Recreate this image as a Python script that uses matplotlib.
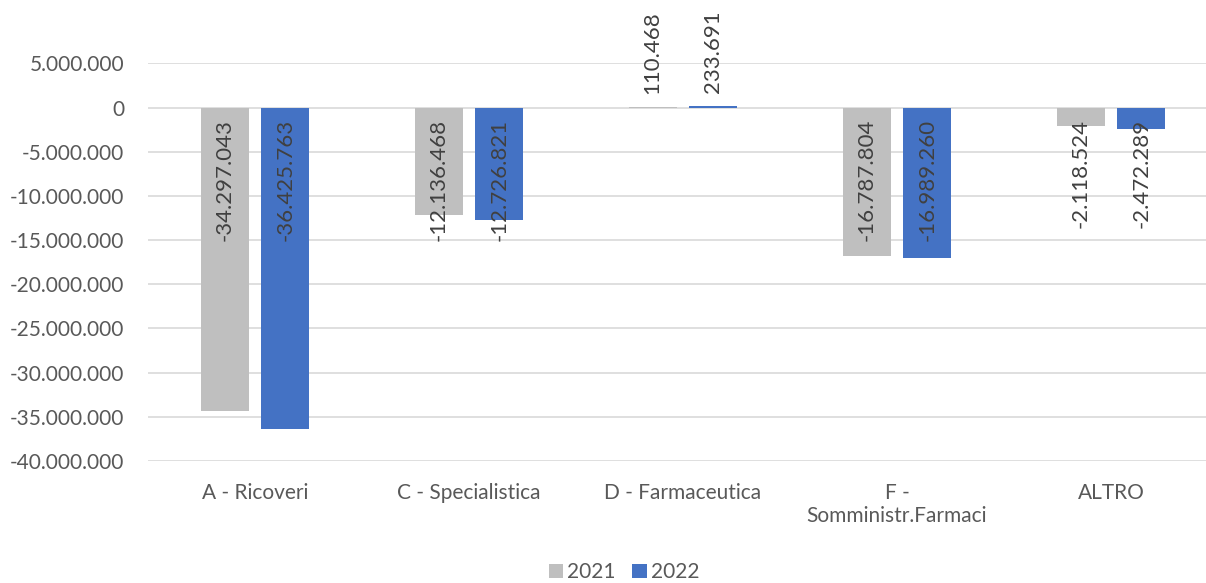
import numpy as np
import matplotlib.pyplot as plt

categories = ["A - Ricoveri", "C - Specialistica", "D - Farmaceutica",
              "F -\nSomministr.Farmaci", "ALTRO"]
values_2021 = [-34297043, -12136468, 110468, -16787804, -2118524]
values_2022 = [-36425763, -12726821, 233691, -16989260, -2472289]
series = {"2021": values_2021, "2022": values_2022}
colors = {"2021": "#BFBFBF", "2022": "#4472C4"}


def fmt(v):
    s = "{:,.0f}".format(v).replace(",", ".")
    return s


plt.rcParams['font.family'] = ['Lato', 'DejaVu Sans']
fig = plt.figure(figsize=(12.06, 5.83), dpi=100)
ax = fig.add_axes([0.1227, 0.2093, 0.8773, 0.6818])

x = np.arange(len(categories))
w = 0.224
offsets = {"2021": -0.142, "2022": 0.142}

for name, vals in series.items():
    bars = ax.bar(x + offsets[name], vals, width=w, color=colors[name],
                  label=name, zorder=3)
    for b, v in zip(bars, vals):
        cx = b.get_x() + b.get_width() / 2
        if v < 0:
            ax.annotate(fmt(v), (cx, 0), xytext=(0, -8), textcoords="offset points",
                        rotation=90, ha="center", va="top", fontsize=16,
                        color="#404040", annotation_clip=False, zorder=4)
        else:
            ax.annotate(fmt(v), (cx, v), xytext=(0, 9), textcoords="offset points",
                        rotation=90, ha="center", va="bottom", fontsize=16,
                        color="#404040", annotation_clip=False, zorder=4)

ax.set_ylim(-40000000, 5000000)
ax.set_xlim(-0.5, 4.444)
ax.set_yticks(np.arange(-40000000, 5000001, 5000000))
ax.set_yticklabels([fmt(t) for t in ax.get_yticks()])
ax.set_xticks(x)
ax.set_xticklabels(categories)
ax.grid(axis="y", color="#D9D9D9", linewidth=1.2, zorder=0)
for s in ax.spines.values():
    s.set_visible(False)
ax.tick_params(axis="both", length=0, labelsize=15, colors="#595959")
ax.tick_params(axis="y", pad=17)
ax.tick_params(axis="x", pad=16)

ax.legend(loc="center", bbox_to_anchor=(0.45, -0.28),
          ncol=2, frameon=False, fontsize=15, handlelength=0.7, handleheight=0.7,
          handletextpad=0.2, columnspacing=0.8, labelcolor="#595959",
          borderaxespad=0, borderpad=0.1)

fig.savefig("out.png", dpi=100)
